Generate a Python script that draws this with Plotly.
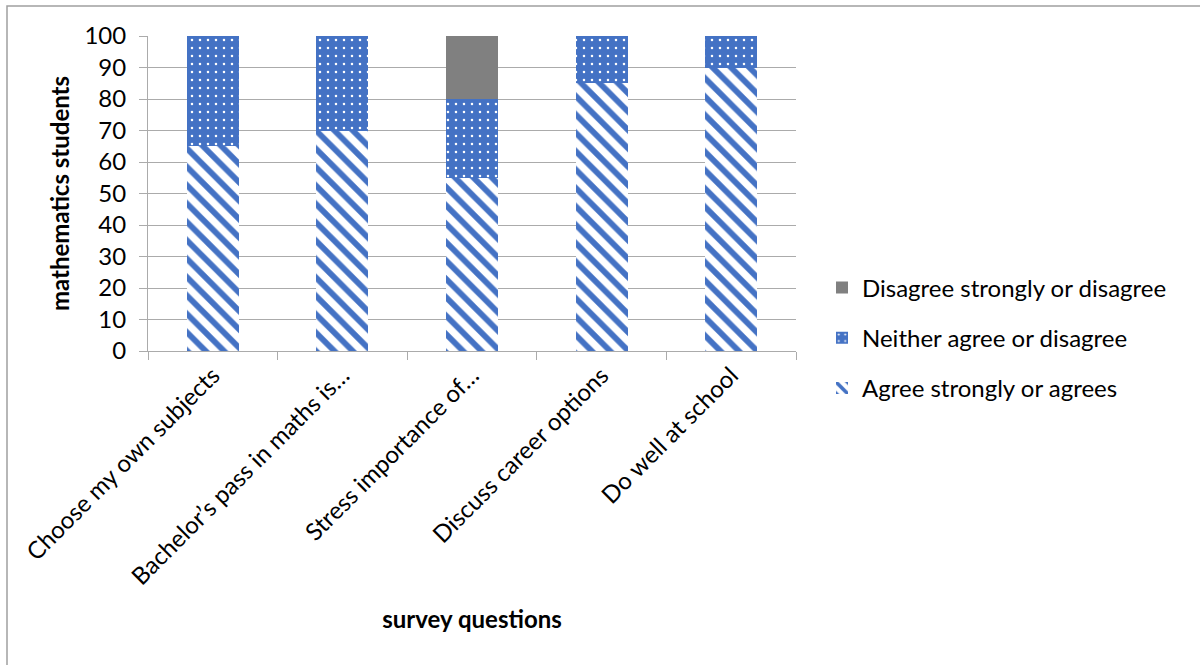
import plotly.graph_objects as go

categories = ["Choose my own subjects", "Bachelor\u2019s pass in maths is\u2026",
              "Stress importance of\u2026", "Discuss career options", "Do well at school"]
agree = [65, 70, 55, 85, 90]
neither = [35, 30, 25, 15, 10]
disagree = [0, 0, 20, 0, 0]
y_ticks = [0, 10, 20, 30, 40, 50, 60, 70, 80, 90, 100]

BLUE = "#4472C4"
GRAY = "#808080"
GRID = "#ABABAB"
FONT = "Lato, 'Open Sans', sans-serif"

L, R, T, B = 148, 404, 36, 314
W, H = 1200, 665
pw, ph = W - L - R, H - T - B

fig = go.Figure()
fig.add_trace(go.Bar(
    x=categories, y=agree, name="Agree strongly or agrees", legendgroup="a", legendrank=3,
    marker=dict(color="white", line=dict(width=0),
                pattern=dict(shape="\\", fgcolor=BLUE, bgcolor="white", size=13, solidity=0.45,
                             fgopacity=1, fillmode="overlay")),
))
fig.add_trace(go.Bar(
    x=categories, y=neither, name="Neither agree or disagree", legendgroup="b", legendrank=2,
    marker=dict(color=BLUE, line=dict(width=0),
                pattern=dict(shape=".", fgcolor="white", bgcolor=BLUE, size=8, solidity=0.08,
                             fgopacity=1, fillmode="overlay")),
))
fig.add_trace(go.Bar(
    x=categories, y=disagree, name="Disagree strongly or disagree", legendgroup="c", legendrank=1,
    marker=dict(color=GRAY, line=dict(width=0)),
))

fig.update_layout(
    barmode="stack",
    bargap=0.6,
    width=W, height=H,
    margin=dict(l=L, r=R, t=T, b=B),
    paper_bgcolor="white", plot_bgcolor="white",
    font=dict(family=FONT, size=24, color="black"),
    legend=dict(
        x=(822 - L) / pw, xanchor="left",
        y=(H - B - 338) / ph, yanchor="middle",
        traceorder="grouped", tracegroupgap=16,
        font=dict(size=24, family=FONT), itemwidth=30,
        bgcolor="rgba(0,0,0,0)",
    ),
    yaxis=dict(
        range=[0, 100], tickvals=y_ticks, showgrid=True, gridcolor=GRID, gridwidth=1,
        showline=True, linecolor=GRID, linewidth=1,
        ticks="outside", ticklen=8, tickcolor=GRID, ticklabelstandoff=8,
        tickfont=dict(size=24), zeroline=False,
        title=dict(text="<b>mathematics students</b>", font=dict(size=24), standoff=8),
    ),
    xaxis=dict(
        showline=True, linecolor=GRID, linewidth=1,
        ticks="outside", ticklen=8, tickcolor=GRID, tickson="boundaries",
        tickangle=-45, tickfont=dict(size=24),
        title=dict(text="<b>survey questions</b>", font=dict(size=24), standoff=22),
    ),
    shapes=[dict(
        type="rect", xref="paper", yref="paper",
        x0=(7 - L) / pw, x1=(1215 - L) / pw,
        y0=(H - B - 690) / ph, y1=(H - B - 6) / ph,
        line=dict(color="#A0A0A0", width=1.5), fillcolor="rgba(0,0,0,0)", layer="below",
    )],
)

fig.write_html("out.html")
